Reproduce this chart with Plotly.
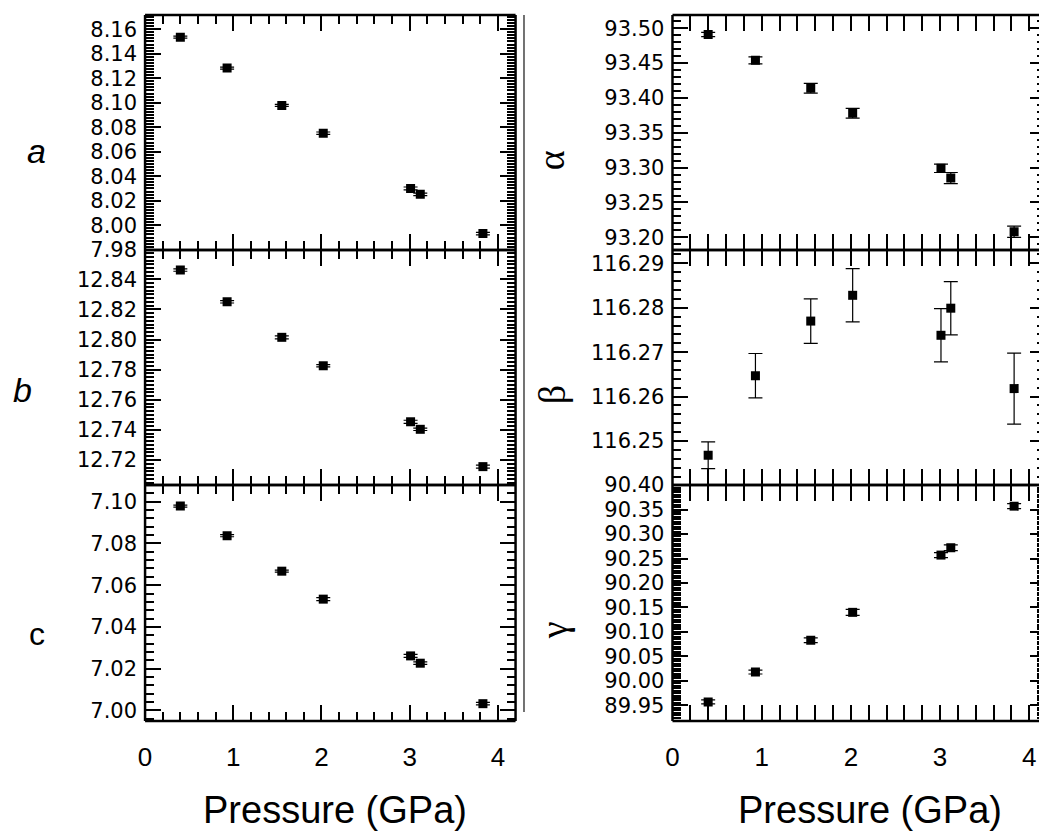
import plotly.graph_objects as go

# ---- data ----
pressure = [0.40, 0.93, 1.55, 2.02, 3.01, 3.12, 3.83]

a_val = [8.1535, 8.1283, 8.0978, 8.0751, 8.0300, 8.0252, 7.9932]
a_err = [0.0008, 0.0008, 0.0008, 0.0010, 0.0012, 0.0010, 0.0010]

b_val = [12.8462, 12.8251, 12.8015, 12.7826, 12.7454, 12.7404, 12.7156]
b_err = [0.0008, 0.0008, 0.0010, 0.0008, 0.0010, 0.0008, 0.0010]

c_val = [7.0979, 7.0837, 7.0667, 7.0533, 7.0261, 7.0226, 7.0032]
c_err = [0.0005, 0.0005, 0.0005, 0.0007, 0.0007, 0.0006, 0.0006]

alpha_val = [93.491, 93.454, 93.414, 93.378, 93.299, 93.285, 93.208]
alpha_err = [0.003, 0.005, 0.007, 0.007, 0.006, 0.008, 0.008]

beta_val = [116.2468, 116.2647, 116.2770, 116.2828, 116.2738, 116.2799, 116.2618]
beta_err = [0.003, 0.005, 0.005, 0.006, 0.006, 0.006, 0.008]

gamma_val = [89.957, 90.018, 90.083, 90.140, 90.257, 90.272, 90.357]
gamma_err = [0.004, 0.004, 0.005, 0.006, 0.005, 0.006, 0.005]

x_label = "Pressure (GPa)"

# ---- geometry ----
W, H = 1039, 833
def px(x):
    return x / W
def py(y):
    return 1 - y / H

FONT = "Liberation Sans, Arial, sans-serif"
TICKFONT = "DejaVu Sans, Liberation Sans, sans-serif"
SERIF = "Liberation Serif, Times New Roman, serif"

Ldom = [px(139), px(512)]
Rdom = [px(670), 1.0]
row1 = [py(250), py(15)]
row2 = [py(485), py(250)]
row3 = [py(721), py(485)]
LR = [0, 4.2]
RR = [0, 4.109]

# y axis settings: (domain, range, dtick, tick0, minor dtick)
yspec = {
    "y":  (row1, [7.9798, 8.1716], 0.02, 7.98, 0.0025),
    "y2": (row2, [12.7034, 12.8595], 0.02, 12.72, 0.0025),
    "y3": (row3, [6.9949, 7.108], 0.02, 7.00, 0.004),
    "y4": (row1, [93.1818, 93.519], 0.05, 93.20, 0.01),
    "y5": (row2, [116.2401, 116.293], 0.01, 116.25, 0.002),
    "y6": (row3, [89.918, 90.4002], 0.05, 89.95, 0.005),
}

fig = go.Figure()

panels = [
    (a_val, a_err, "x", "y"),
    (b_val, b_err, "x2", "y2"),
    (c_val, c_err, "x3", "y3"),
    (alpha_val, alpha_err, "x4", "y4"),
    (beta_val, beta_err, "x5", "y5"),
    (gamma_val, gamma_err, "x6", "y6"),
]
for vals, errs, xa, ya in panels:
    fig.add_trace(go.Scatter(
        x=pressure, y=vals, mode="markers", xaxis=xa, yaxis=ya,
        marker=dict(symbol="square", size=9, color="black"),
        error_y=dict(type="data", array=errs, visible=True,
                     color="black", thickness=1.2, width=7),
        showlegend=False, hoverinfo="skip"))

# invisible companions that carry the right-hand tick axes of the right column
for vals, xa, yo in [(alpha_val, "x4", "y7"), (beta_val, "x5", "y8"),
                     (gamma_val, "x6", "y9")]:
    fig.add_trace(go.Scatter(x=pressure, y=vals, mode="markers", xaxis=xa, yaxis=yo,
                             marker=dict(size=1, opacity=0), showlegend=False,
                             hoverinfo="skip"))

def base_axis():
    return dict(showline=False, ticks="inside", tickwidth=2, tickcolor="black",
                showgrid=False, zeroline=False)

def xaxis(dom, show, anchor, rng):
    return dict(base_axis(), mirror="allticks", domain=dom, range=rng,
                dtick=1, tick0=0, ticklen=16, anchor=anchor,
                showticklabels=show, tickformat="d",
                tickfont=dict(family=FONT, size=26, color="black"),
                ticklabelstandoff=18,
                minor=dict(ticks="inside", dtick=0.2, tick0=0, ticklen=9,
                           tickwidth=2, tickcolor="black"))

def yaxis(key, anchor, mirror):
    dom, rng, dt, t0, mdt = yspec[key]
    return dict(base_axis(), mirror=mirror, domain=dom, range=rng, dtick=dt, tick0=t0,
                ticklen=16, anchor=anchor, tickformat=".2f", automargin=False,
                tickfont=dict(family=TICKFONT, size=21, color="black"),
                ticklabelstandoff=7,
                minor=dict(ticks="inside", dtick=mdt, tick0=t0, ticklen=9,
                           tickwidth=1.5, tickcolor="black"))

def yright(key, over):
    dom, rng, dt, t0, mdt = yspec[key]
    return dict(base_axis(), overlaying=over, side="right", anchor="free", position=1.0,
                range=rng, dtick=dt, tick0=t0, ticklen=9, showticklabels=False,
                automargin=False,
                minor=dict(ticks="inside", dtick=mdt, tick0=t0, ticklen=2,
                           tickwidth=1.5, tickcolor="black"))

fig.update_layout(
    width=W, height=H, margin=dict(l=0, r=0, t=0, b=0),
    paper_bgcolor="white", plot_bgcolor="white",
    xaxis=xaxis(Ldom, False, "y", LR),
    xaxis2=xaxis(Ldom, False, "y2", LR),
    xaxis3=xaxis(Ldom, True, "y3", LR),
    xaxis4=xaxis(Rdom, False, "y4", RR),
    xaxis5=xaxis(Rdom, False, "y5", RR),
    xaxis6=xaxis(Rdom, True, "y6", RR),
    yaxis=yaxis("y", "x", "allticks"),
    yaxis2=yaxis("y2", "x2", "allticks"),
    yaxis3=yaxis("y3", "x3", "allticks"),
    yaxis4=yaxis("y4", "x4", False),
    yaxis5=yaxis("y5", "x5", False),
    yaxis6=yaxis("y6", "x6", False),
    yaxis7=yright("y4", "y4"),
    yaxis8=yright("y5", "y5"),
    yaxis9=yright("y6", "y6"),
)

# panel frames
def frame(xa, ya, right=True):
    xr, yr = xa + " domain", ya + " domain"
    segs = [(0, 0, 0, 1), (0, 1, 1, 1), (0, 0, 1, 0)]
    if right:
        segs.append((1, 0, 1, 1))
    for x0, y0, x1, y1 in segs:
        fig.add_shape(type="line", xref=xr, yref=yr, x0=x0, y0=y0, x1=x1, y1=y1,
                      line=dict(color="black", width=2.5))

for _, _, xa, ya in panels[:3]:
    frame(xa, ya, True)
for _, _, xa, ya in panels[3:]:
    frame(xa, ya, False)

# border line of the right image
fig.add_shape(type="line", xref="paper", yref="paper",
              x0=px(520.5), x1=px(520.5), y0=py(15), y1=py(712),
              line=dict(color="#444444", width=1.5))

def ann(text, x, y, size, family=FONT, angle=0):
    fig.add_annotation(text=text, xref="paper", yref="paper", x=px(x), y=py(y),
                       showarrow=False, textangle=angle, xanchor="center", yanchor="middle",
                       font=dict(family=family, size=size, color="black"))

ann("<i>a</i>", 30, 151, 34)
ann("<i>b</i>", 16, 390, 34)
ann("c", 30, 634, 32)
ann("α", 548, 160, 38, SERIF, -90)
ann("β", 549, 395, 38, SERIF, -90)
ann("γ", 551, 630, 38, SERIF, -90)
ann(x_label, 330, 810, 38)
ann(x_label, 869, 810, 38)

fig.write_html("out.html")
